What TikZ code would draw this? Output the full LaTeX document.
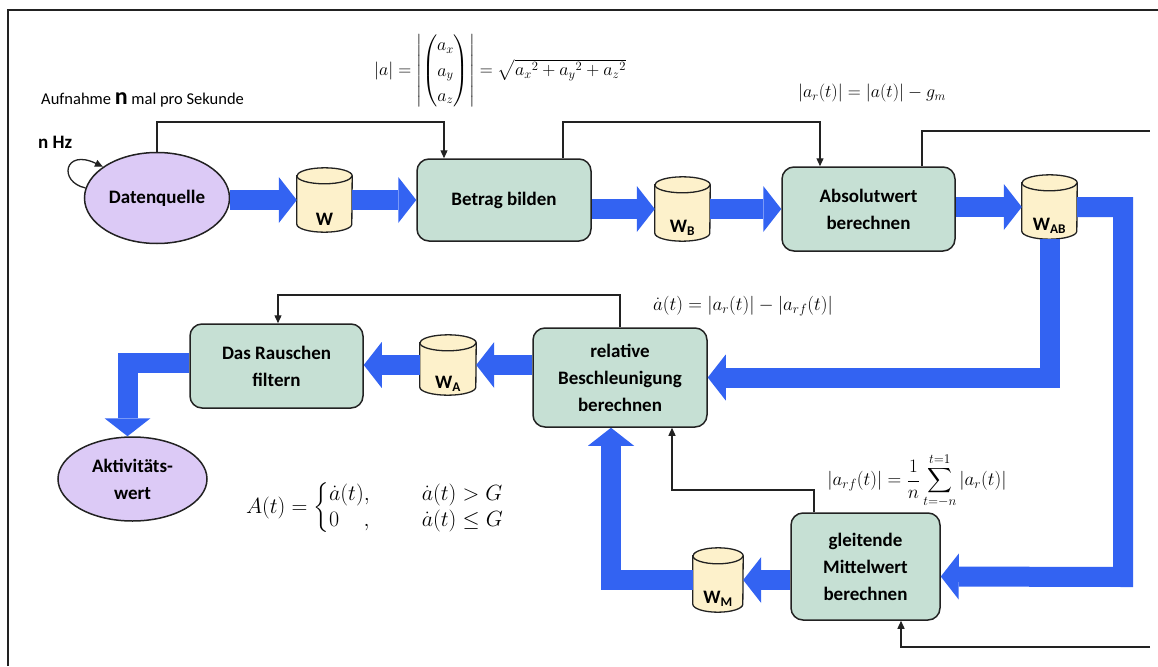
\RequirePackage{fix-cm}
\documentclass[tikz,border=0pt]{standalone}
\usepackage{amsmath}
\usepackage[no-math]{fontspec}
\setmainfont{Carlito}
\usetikzlibrary{arrows.meta,shapes.geometric}

\definecolor{flowblue}{HTML}{3363F2}
\definecolor{boxfill}{HTML}{C6E0D4}
\definecolor{srcfill}{HTML}{DCCAF6}
\definecolor{drumfill}{HTML}{FDF1CB}
\definecolor{ink}{HTML}{222222}

\newcommand\lblfont{\fontsize{19}{27}\selectfont\bfseries}
\newcommand\notefont{\fontsize{16.5}{20}\selectfont}
\newcommand\eqfont[1]{\fontsize{#1}{#1}\selectfont}

% data store drawn as a cylinder around an empty named node
\newcommand\drawdrum[3]{%
  \filldraw[drumline] ([yshift=-8pt]#1.north west) -- ([yshift=8pt]#1.south west)
    arc[start angle=180,end angle=360,x radius=#2,y radius=8pt]
    -- ([yshift=-8pt]#1.north east)
    arc[start angle=0,end angle=180,x radius=#2,y radius=8pt] -- cycle;
  \draw[drumline,fill=none] ([yshift=-8pt]#1.north west)
    arc[start angle=180,end angle=360,x radius=#2,y radius=8pt];
  \node[drumtext] (#1-lbl) at ([yshift=-19pt]#1.center) {#3};
}

\begin{document}
\begin{tikzpicture}[x=1pt,y=-1pt,
  proc/.style={draw=ink, line width=1.5pt, fill=boxfill, rounded corners=12pt,
    align=center, font=\lblfont, inner sep=0pt},
  source/.style={ellipse, draw=ink, line width=1.5pt, fill=srcfill,
    align=center, font=\lblfont, inner sep=0pt},
  drum/.style={inner sep=0pt, minimum height=64pt},
  drumline/.style={draw=ink, line width=1.3pt, fill=drumfill},
  drumtext/.style={font=\lblfont, inner sep=0pt},
  flow/.style={draw=flowblue, line width=20pt, line join=miter,
    -{Triangle[length=18pt,width=46pt,line width=0pt]}},
  sig/.style={draw=ink, line width=1.3pt, -{Triangle[length=8pt,width=7pt]}},
  wire/.style={draw=ink, line width=1.3pt},
  formula/.style={inner sep=0pt}
]
\useasboundingbox (0,0) rectangle (1158,666);

% frame
\draw[line width=2.5pt, ink] (8,666) -- (8,10) -- (1158,10);

% texts in the upper left corner
\node[anchor=west, font=\notefont, inner sep=0pt] (rate) at (41,100)
  {Aufnahme {\fontsize{24}{24}\selectfont\bfseries n} mal pro Sekunde};
\node[anchor=west, font=\lblfont, inner sep=0pt] (hz) at (38,142) {n Hz};

% process nodes
\node[source, minimum width=145pt, minimum height=91pt] (dq) at (157,198) {Datenquelle};
\node[proc, minimum width=174pt, minimum height=82pt] (bet) at (504,200) {Betrag bilden};
\node[proc, minimum width=173pt, minimum height=84pt] (abs) at (868.5,209) {Absolutwert\\berechnen};
\node[proc, minimum width=174pt, minimum height=99pt] (rel) at (620,377.5) {relative\\Beschleunigung\\berechnen};
\node[proc, minimum width=173pt, minimum height=84pt] (rs) at (276.5,366) {Das Rauschen\\filtern};
\node[proc, minimum width=149pt, minimum height=107pt] (gl) at (865.5,566.5) {gleitende\\Mittelwert\\berechnen};
\node[source, minimum width=149pt, minimum height=84pt] (akt) at (132.5,479) {Aktivitäts-\\wert};

% data stores
\node[drum, minimum width=55pt] (w) at (324.5,200) {};
\node[drum, minimum width=55pt] (wb) at (682.5,209) {};
\node[drum, minimum width=55pt] (wab) at (1049.5,207) {};
\node[drum, minimum width=56pt, minimum height=60pt] (wa) at (448,365) {};
\node[drum, minimum width=50pt] (wm) at (718,580) {};
\drawdrum{w}{27.5pt}{W}
\drawdrum{wb}{27.5pt}{W\textsubscript{B}}
\drawdrum{wab}{27.5pt}{W\textsubscript{AB}}
\drawdrum{wa}{28pt}{W\textsubscript{A}}
\drawdrum{wm}{25pt}{W\textsubscript{M}}

% corner points of the wide flows
\coordinate (railR) at (1123,577);

% data flow
\draw[flow] (dq.east |- w.center) -- (w.west);
\draw[flow] (w.east) -- (bet.west |- w.center);
\draw[flow] (bet.east |- wb.center) -- (wb.west);
\draw[flow] (wb.east) -- (abs.west |- wb.center);
\draw[flow] (abs.east |- wab.center) -- (wab.west);
\draw[flow] (wab.east) -| (railR) -- ([yshift=-10pt]gl.east);
\draw[flow] (wab.south) |- (rel.east);
\draw[flow] (rel.west |- wa.center) -- (wa.east);
\draw[flow] (wa.west) -- (rs.east |- wa.center);
\draw[flow] ([yshift=3pt]rs.west) -| ([xshift=-5pt]akt.north);
\draw[flow] (gl.west |- wm.center) -- (wm.east);
\draw[flow] (wm.west) -| ([xshift=-9pt]rel.south);

% control lines
\coordinate (k1) at (444,122);
\coordinate (k2) at (563,122);
\coordinate (k3) at (820,122);
\coordinate (k4) at (922,131);
\coordinate (k5) at (1150,131);
\coordinate (k6) at (278,295);
\coordinate (k7) at (814,490);
\coordinate (k8) at (672,490);
\coordinate (k9) at (1150,647);
\coordinate (k10) at (901,647);

\draw[sig] (dq.north) |- (k1) -- (k1 |- bet.north);
\draw[sig] (k2 |- bet.north) -- (k2) -- (k3) -- (k3 |- abs.north);
\draw[wire] (k4 |- abs.north) -- (k4) -- (k5);
\draw[sig] (rel.north) |- (k6) -- (k6 |- rs.north);
\draw[sig] (k7 |- gl.north) -- (k7) -- (k8) -- (k8 |- rel.south);
\draw[sig] (k9) -- (k10) -- (k10 |- gl.south);
\draw[sig] (dq.172) .. controls (58,182) and (64,148) .. (dq.150);

% formulas
\node[formula] (f1) at (500,71) {\eqfont{18}$\renewcommand\arraystretch{1.4}
  \left|a\right| = \left|\begin{pmatrix} a_x\\ a_y\\ a_z\end{pmatrix}\right|
  = \sqrt{{a_x}^{2}+{a_y}^{2}+{a_z}^{2}}$};
\node[formula] (f2) at (872,93) {\eqfont{18}$\left|a_r(t)\right| = \left|a(t)\right| - g_m$};
\node[formula] (f3) at (743,306) {\eqfont{19}$\dot a(t) = \left|a_r(t)\right| - \left|a_{rf}(t)\right|$};
\node[formula] (f4) at (917,481) {\eqfont{19}$\displaystyle \left|a_{rf}(t)\right| = \frac{1}{n}\sum_{t=-n}^{t=1}\left|a_r(t)\right|$};
\node[formula] (f5) at (375,508) {\eqfont{22}$A(t) = \begin{cases} \dot a(t), & \hspace{30pt}\dot a(t) > G\\ 0\;\;\;\;, & \hspace{30pt}\dot a(t) \le G\end{cases}$};
\end{tikzpicture}
\end{document}
